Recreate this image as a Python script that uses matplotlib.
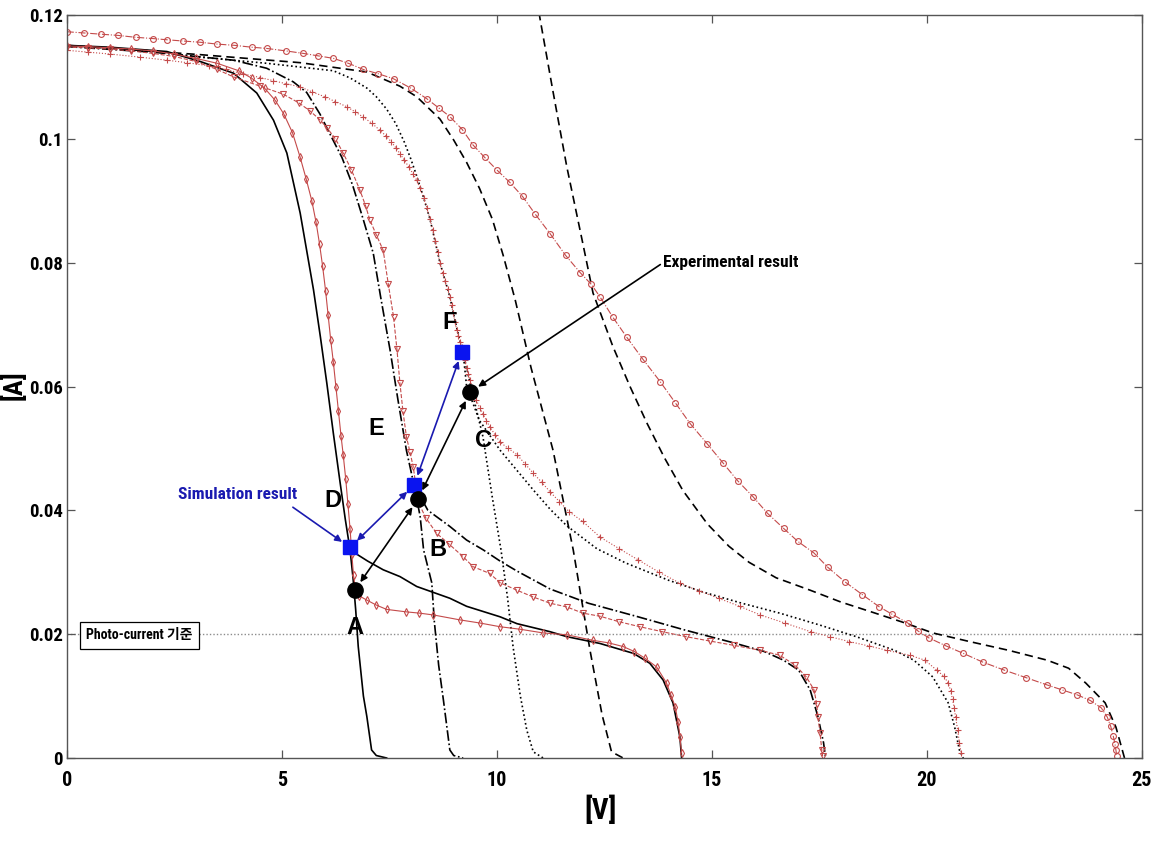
import matplotlib
matplotlib.use('Agg')
import matplotlib.pyplot as plt
from matplotlib import font_manager

# ---------------- data ----------------
sim_solid_top_V = [0, 1, 2.33, 3.1, 3.88, 4.42, 4.81, 5.12, 5.43, 5.58, 5.74, 5.9, 6.05, 6.2, 6.36, 6.48, 6.59]
sim_solid_top_I = [0.1151, 0.1148, 0.1141, 0.1125, 0.1106, 0.1074, 0.1030, 0.0977, 0.0880, 0.0820, 0.0756, 0.0680, 0.0605, 0.0525, 0.0444, 0.0385, 0.0336]
sim_solid_drop_V = [6.59, 6.66, 6.72, 6.78, 6.90, 6.98, 7.09, 7.20, 7.44]
sim_solid_drop_I = [0.0336, 0.0290, 0.0240, 0.0180, 0.0100, 0.0067, 0.0013, 0.0004, 0.0]
sim_solid_tail_V = [6.59, 7.0, 7.36, 7.75, 8.14, 8.91, 9.3, 10.08, 10.47, 11.24, 11.63, 12.4, 13.18, 13.56, 13.87, 14.1, 14.26, 14.3]
sim_solid_tail_I = [0.0336, 0.0318, 0.0304, 0.0293, 0.0277, 0.0258, 0.0245, 0.0228, 0.0217, 0.0204, 0.0196, 0.0185, 0.0169, 0.0153, 0.0126, 0.0089, 0.0034, 0.0]

sim_dashdot_top_V = [0, 2, 3.88, 4.65, 5.27, 5.58, 5.89, 6.15, 6.4, 6.65, 6.9, 7.13, 7.3, 7.52, 7.7, 7.9, 8.08]
sim_dashdot_top_I = [0.1149, 0.1140, 0.1127, 0.1114, 0.1092, 0.1075, 0.1040, 0.1004, 0.0970, 0.0925, 0.0869, 0.0815, 0.0745, 0.0659, 0.0580, 0.0497, 0.0440]
sim_dashdot_drop_V = [8.08, 8.22, 8.3, 8.49, 8.55, 8.65, 8.76, 8.91, 9.0, 9.22]
sim_dashdot_drop_I = [0.0440, 0.0390, 0.0336, 0.0283, 0.0220, 0.0150, 0.0094, 0.0013, 0.0004, 0.0]
sim_dashdot_tail_V = [8.08, 8.4, 8.91, 9.3, 9.69, 10.08, 10.47, 11.24, 12.13, 13.29, 14.36, 15.51, 16.22, 16.67, 17.02, 17.29, 17.47, 17.6, 17.65]
sim_dashdot_tail_I = [0.0440, 0.0400, 0.0374, 0.0352, 0.0336, 0.0318, 0.0302, 0.0273, 0.0250, 0.0228, 0.0207, 0.0186, 0.0172, 0.0158, 0.0142, 0.0110, 0.0067, 0.0025, 0.0]

sim_dotted_top_V = [0, 2, 3.1, 4.65, 6.2, 6.6, 6.98, 7.2, 7.44, 7.65, 7.85, 8.0, 8.14, 8.3, 8.45, 8.68, 8.91, 9.07, 9.22]
sim_dotted_top_I = [0.1150, 0.1142, 0.1132, 0.1122, 0.1110, 0.1098, 0.1082, 0.1068, 0.1048, 0.1025, 0.0995, 0.0968, 0.0940, 0.0905, 0.0870, 0.0800, 0.0745, 0.0695, 0.0654]
sim_dotted_drop_V = [9.22, 9.45, 9.68, 9.9, 10.1, 10.25, 10.38, 10.55, 10.7, 10.85, 11.08]
sim_dotted_drop_I = [0.0654, 0.0585, 0.0519, 0.0420, 0.0336, 0.0260, 0.0180, 0.0100, 0.0045, 0.0010, 0.0]
sim_dotted_tail_V = [9.22, 9.3, 9.6, 10.08, 10.85, 11.24, 11.63, 12.33, 13.0, 14.0, 14.8, 15.7, 16.58, 17.5, 18.36, 19.25, 19.7, 20.14, 20.5, 20.65, 20.76, 20.85]
sim_dotted_tail_I = [0.0654, 0.0600, 0.0545, 0.0497, 0.0433, 0.0402, 0.0375, 0.0338, 0.0315, 0.0287, 0.0268, 0.0250, 0.0234, 0.0215, 0.0196, 0.0174, 0.0158, 0.0131, 0.0089, 0.0050, 0.0013, 0.0]

sim_dashed_single_V = [0, 3.1, 5.43, 6.98, 7.75, 8.14, 8.68, 9.0, 9.3, 9.6, 9.9, 10.15, 10.43, 10.8, 11.31, 11.78, 12.17, 12.45, 12.67, 12.94]
sim_dashed_single_I = [0.1151, 0.1136, 0.1123, 0.1108, 0.1085, 0.1068, 0.1032, 0.0998, 0.0962, 0.0920, 0.0870, 0.0812, 0.0740, 0.0630, 0.0497, 0.0336, 0.0174, 0.0070, 0.0010, 0.0]
sim_dashed_tail_V = [10.85, 11.01, 11.3, 11.63, 12.0, 12.24, 12.7, 13.1, 13.5, 13.9, 14.33, 14.9, 15.4, 15.87, 16.5, 17.29, 18.0, 18.8, 19.5, 20.14, 21.0, 21.9, 22.8, 23.3, 23.7, 24.15, 24.4, 24.6]
sim_dashed_tail_I = [0.1260, 0.1193, 0.1080, 0.0955, 0.0832, 0.0751, 0.0665, 0.0600, 0.0540, 0.0485, 0.0432, 0.0378, 0.0342, 0.0316, 0.0291, 0.0271, 0.0252, 0.0234, 0.0218, 0.0202, 0.0188, 0.0174, 0.0158, 0.0145, 0.0121, 0.0089, 0.0050, 0.0]

exp_diamond_V = [0.0, 0.5, 1.0, 1.5, 2.0, 2.5, 3.0, 3.5, 4.0, 4.3, 4.6, 4.85, 5.05, 5.25, 5.43, 5.57, 5.70, 5.80, 5.88, 5.95, 6.02, 6.08, 6.14, 6.20, 6.26, 6.32, 6.38, 6.43, 6.49, 6.54, 6.59, 6.63, 6.67, 6.72, 6.80, 6.98, 7.20, 7.44, 7.9, 8.2, 8.53, 9.15, 9.61, 10.08, 10.54, 11.08, 11.63, 12.24, 12.6, 12.94, 13.2, 13.45, 13.72, 13.95, 14.05, 14.15, 14.22, 14.26, 14.30]
exp_diamond_I = [0.1150, 0.1149, 0.1147, 0.1145, 0.1142, 0.1137, 0.1130, 0.1122, 0.1110, 0.1098, 0.1082, 0.1062, 0.1040, 0.1010, 0.0970, 0.0935, 0.0900, 0.0865, 0.0830, 0.0795, 0.0755, 0.0715, 0.0675, 0.0640, 0.0600, 0.0560, 0.0520, 0.0490, 0.0450, 0.0410, 0.0370, 0.0330, 0.0295, 0.0270, 0.0262, 0.0255, 0.0247, 0.0240, 0.0236, 0.0234, 0.0231, 0.0223, 0.0218, 0.0212, 0.0208, 0.0202, 0.0199, 0.0190, 0.0186, 0.0180, 0.0172, 0.0161, 0.0147, 0.0121, 0.0102, 0.0083, 0.0058, 0.0034, 0.0008]

exp_triangle_V = [0, 0.5, 1, 1.5, 2, 2.5, 3, 3.5, 3.88, 4.5, 5.04, 5.4, 5.66, 5.9, 6.05, 6.25, 6.43, 6.62, 6.82, 6.95, 7.05, 7.2, 7.36, 7.48, 7.6, 7.68, 7.75, 7.82, 7.9, 7.98, 8.06, 8.12, 8.17, 8.35, 8.6, 8.9, 9.22, 9.45, 9.84, 10.08, 10.47, 10.85, 11.24, 11.63, 12.0, 12.4, 12.85, 13.33, 13.85, 14.4, 14.95, 15.51, 16.13, 16.58, 16.94, 17.2, 17.38, 17.44, 17.47, 17.52, 17.56, 17.58]
exp_triangle_I = [0.1148, 0.1147, 0.1145, 0.1142, 0.1138, 0.1133, 0.1125, 0.1112, 0.1100, 0.1085, 0.1072, 0.1058, 0.1045, 0.1030, 0.1018, 0.1000, 0.0977, 0.0950, 0.0917, 0.0892, 0.0869, 0.0845, 0.0820, 0.0765, 0.0713, 0.0660, 0.0605, 0.0560, 0.0519, 0.0495, 0.0470, 0.0440, 0.0414, 0.0388, 0.0363, 0.0345, 0.0325, 0.0309, 0.0298, 0.0283, 0.0271, 0.0260, 0.0250, 0.0244, 0.0234, 0.0229, 0.0220, 0.0212, 0.0204, 0.0196, 0.0189, 0.0182, 0.0174, 0.0166, 0.0150, 0.0131, 0.0110, 0.0088, 0.0067, 0.0040, 0.0013, 0.0003]

exp_plus_V = [0, 0.5, 1, 1.7, 2.33, 2.8, 3.3, 3.7, 4.1, 4.5, 4.8, 5.1, 5.43, 5.7, 6.0, 6.25, 6.51, 6.7, 6.9, 7.1, 7.28, 7.42, 7.55, 7.65, 7.75, 7.85, 7.95, 8.05, 8.14, 8.22, 8.3, 8.38, 8.45, 8.51, 8.57, 8.63, 8.68, 8.74, 8.8, 8.86, 8.91, 8.95, 8.99, 9.03, 9.07, 9.11, 9.15, 9.19, 9.22, 9.26, 9.3, 9.34, 9.38, 9.45, 9.53, 9.6, 9.69, 9.76, 9.84, 9.96, 10.08, 10.27, 10.47, 10.66, 10.85, 11.05, 11.24, 11.46, 11.68, 12.0, 12.4, 12.85, 13.29, 13.78, 14.27, 14.7, 15.16, 15.65, 16.13, 16.7, 17.3, 17.75, 18.2, 18.65, 19.07, 19.6, 19.96, 20.23, 20.4, 20.5, 20.56, 20.6, 20.64, 20.67, 20.72, 20.76, 20.8]
exp_plus_I = [0.1143, 0.1140, 0.1137, 0.1132, 0.1127, 0.1123, 0.1118, 0.1112, 0.1105, 0.1099, 0.1094, 0.1089, 0.1084, 0.1076, 0.1068, 0.1060, 0.1052, 0.1044, 0.1035, 0.1025, 0.1014, 0.1005, 0.0995, 0.0986, 0.0976, 0.0966, 0.0955, 0.0944, 0.0933, 0.0920, 0.0905, 0.0888, 0.0870, 0.0853, 0.0835, 0.0817, 0.0799, 0.0784, 0.0770, 0.0757, 0.0745, 0.0731, 0.0718, 0.0704, 0.0691, 0.0681, 0.0672, 0.0663, 0.0654, 0.0642, 0.0630, 0.0620, 0.0610, 0.0595, 0.0578, 0.0566, 0.0555, 0.0545, 0.0535, 0.0522, 0.0510, 0.0500, 0.0490, 0.0475, 0.0460, 0.0445, 0.0430, 0.0414, 0.0398, 0.0382, 0.0357, 0.0338, 0.0320, 0.0300, 0.0282, 0.0270, 0.0258, 0.0245, 0.0231, 0.0218, 0.0204, 0.0196, 0.0188, 0.0181, 0.0174, 0.0166, 0.0158, 0.0142, 0.0132, 0.0121, 0.0108, 0.0095, 0.0081, 0.0067, 0.0045, 0.0025, 0.0008]

exp_circle_V = [0, 0.4, 0.8, 1.2, 1.6, 2.0, 2.33, 2.7, 3.1, 3.5, 3.9, 4.3, 4.65, 5.1, 5.5, 5.85, 6.2, 6.55, 6.9, 7.25, 7.6, 8.0, 8.37, 8.65, 8.91, 9.2, 9.45, 9.72, 10.0, 10.3, 10.6, 10.9, 11.24, 11.6, 11.94, 12.2, 12.4, 12.7, 13.02, 13.4, 13.8, 14.15, 14.5, 14.9, 15.27, 15.6, 15.96, 16.3, 16.67, 17.0, 17.38, 17.7, 18.09, 18.5, 18.9, 19.2, 19.56, 19.8, 20.05, 20.45, 20.85, 21.3, 21.8, 22.3, 22.8, 23.15, 23.5, 23.8, 24.06, 24.2, 24.28, 24.34, 24.38, 24.4, 24.42]
exp_circle_I = [0.1173, 0.1171, 0.1169, 0.1167, 0.1164, 0.1162, 0.1160, 0.1158, 0.1156, 0.1153, 0.1151, 0.1148, 0.1146, 0.1142, 0.1138, 0.1134, 0.1130, 0.1122, 0.1112, 0.1105, 0.1097, 0.1082, 0.1065, 0.1050, 0.1036, 0.1015, 0.0990, 0.0970, 0.0950, 0.0930, 0.0907, 0.0878, 0.0847, 0.0812, 0.0784, 0.0765, 0.0745, 0.0712, 0.0680, 0.0644, 0.0608, 0.0574, 0.0540, 0.0507, 0.0476, 0.0448, 0.0422, 0.0395, 0.0371, 0.0350, 0.0331, 0.0308, 0.0285, 0.0264, 0.0244, 0.0232, 0.0218, 0.0205, 0.0194, 0.0181, 0.0169, 0.0155, 0.0142, 0.0130, 0.0118, 0.0110, 0.0102, 0.0093, 0.0081, 0.0066, 0.0051, 0.0035, 0.0022, 0.0013, 0.0003]

photo_current_ref = 0.02

exp_points_V = [6.70, 8.17, 9.38]          # A, B, C (experimental)
exp_points_I = [0.0271, 0.0418, 0.0591]
exp_labels = ['A', 'B', 'C']
sim_points_V = [6.59, 8.08, 9.19]          # D, E, F (simulation)
sim_points_I = [0.0340, 0.0441, 0.0656]
sim_labels = ['D', 'E', 'F']

x_ticks = [0, 5, 10, 15, 20, 25]
y_ticks = [0, 0.02, 0.04, 0.06, 0.08, 0.1, 0.12]
y_tick_labels = ['0', '0.02', '0.04', '0.06', '0.08', '0.1', '0.12']

# ---------------- fonts ----------------
ttf = font_manager.fontManager.ttflist
names = {f.name for f in ttf}
COND, STRETCH, FOUND = 'DejaVu Sans', 'normal', False
for pref in ['Liberation Sans Narrow', 'Roboto Condensed', 'Open Sans Condensed', 'Noto Sans Condensed',
             'DejaVu Sans Condensed']:
    if pref in names:
        COND, FOUND = pref, True
        break
if not FOUND:
    for f in ttf:
        if str(f.stretch) in ('condensed', 'semi-condensed', 'extra-condensed', 'ultra-condensed') \
                or 'Narrow' in f.name or 'Condensed' in f.name:
            COND, STRETCH, FOUND = f.name, str(f.stretch), True
            if 'DejaVu' in f.name:
                break
SCALE = 1.0 if FOUND else 0.85
BOLD_SANS = 'Liberation Sans' if 'Liberation Sans' in names else 'DejaVu Sans'
KR = 'Noto Sans CJK KR'
CF = dict(family=COND, fontstretch=STRETCH, fontweight='bold')

W, H = 1171, 841
fig = plt.figure(figsize=(W / 100, H / 100), dpi=100)
ax = fig.add_axes([66.7 / W, 83 / H, 1075 / W, 743 / H])

K = 'black'
lw = 1.2
ax.plot(sim_solid_top_V, sim_solid_top_I, '-', color=K, lw=lw)
ax.plot(sim_solid_drop_V, sim_solid_drop_I, '-', color=K, lw=lw)
ax.plot(sim_solid_tail_V, sim_solid_tail_I, '-', color=K, lw=lw)
ax.plot(sim_dashdot_top_V, sim_dashdot_top_I, '-.', color=K, lw=lw)
ax.plot(sim_dashdot_drop_V, sim_dashdot_drop_I, '-.', color=K, lw=lw)
ax.plot(sim_dashdot_tail_V, sim_dashdot_tail_I, '-.', color=K, lw=lw)
ax.plot(sim_dotted_top_V, sim_dotted_top_I, ':', color=K, lw=lw)
ax.plot(sim_dotted_drop_V, sim_dotted_drop_I, ':', color=K, lw=lw)
ax.plot(sim_dotted_tail_V, sim_dotted_tail_I, ':', color=K, lw=lw)
ax.plot(sim_dashed_single_V, sim_dashed_single_I, '--', color=K, lw=lw, dashes=(5, 3))
ax.plot(sim_dashed_tail_V, sim_dashed_tail_I, '--', color=K, lw=lw, dashes=(5, 3))

R = '#c44a4a'
mk = dict(mfc='none', mec=R, mew=0.8, ms=4.2)
ax.plot(exp_diamond_V, exp_diamond_I, '-', color=R, lw=0.8, marker='d', **mk)
ax.plot(exp_triangle_V, exp_triangle_I, '--', color=R, lw=0.8, marker='v', **mk)
ax.plot(exp_plus_V, exp_plus_I, ':', color=R, lw=0.8, marker='+', **mk)
ax.plot(exp_circle_V, exp_circle_I, '-.', color=R, lw=0.8, marker='o', **mk)

ax.axhline(photo_current_ref, color='#8c8c8c', lw=1.0, ls=(0, (1, 1.5)), zorder=1)

BL = '#0a14f0'
ax.plot(sim_points_V, sim_points_I, 's', color=BL, ms=10, zorder=6, ls='none')
ax.plot(exp_points_V, exp_points_I, 'o', color='black', ms=11, zorder=6, ls='none')

exp_off = [(0, -27), (14, -36), (10, -35)]
sim_off = [(-12, 34), (-27, 41), (-9, 21)]
for v, i, t, o in zip(exp_points_V + sim_points_V, exp_points_I + sim_points_I,
                      exp_labels + sim_labels, exp_off + sim_off):
    ax.annotate(t, (v, i), xytext=o, textcoords='offset points', ha='center', va='center',
                fontsize=17, fontweight='bold', family=BOLD_SANS, zorder=7)


def dbl(p, q, color):
    ax.annotate('', xy=q, xytext=p,
                arrowprops=dict(arrowstyle='<|-|>', color=color, lw=1.2, shrinkA=7, shrinkB=7,
                                mutation_scale=10), zorder=7)


ea = list(zip(exp_points_V, exp_points_I))
sa = list(zip(sim_points_V, sim_points_I))
dbl(ea[0], ea[1], 'black')
dbl(ea[1], ea[2], 'black')
dbl(sa[0], sa[1], '#1a1ab0')
dbl(sa[1], sa[2], '#1a1ab0')

ax.annotate('Experimental result', xy=ea[2], xytext=(13.87, 0.0800), ha='left', va='center',
            fontsize=12.5 * SCALE, **CF,
            arrowprops=dict(arrowstyle='-|>', color='black', lw=1.2, shrinkA=0, shrinkB=7,
                            mutation_scale=10, relpos=(0, 0.5)), zorder=7)
ax.text(2.6, 0.0425, 'Simulation result', ha='left', va='center', fontsize=12.5 * SCALE,
        color='#1a1ab0', **CF)
ax.annotate('', xy=sa[0], xytext=(5.26, 0.0405),
            arrowprops=dict(arrowstyle='-|>', color='#1a1ab0', lw=1.2, shrinkA=0, shrinkB=7,
                            mutation_scale=10), zorder=7)

ax.text(0.45, 0.0198, 'Photo-current 기준', ha='left', va='center', fontsize=10 * SCALE,
        fontweight='bold', family=[COND, KR], fontstretch=STRETCH,
        bbox=dict(boxstyle='square,pad=0.45', fc='white', ec='black', lw=0.9), zorder=5)

ax.set_xlim(0, 25)
ax.set_ylim(0, 0.12)
ax.set_xticks(x_ticks)
ax.set_yticks(y_ticks)
ax.set_yticklabels(y_tick_labels)
ax.tick_params(direction='in', length=6, width=0.9, top=True, right=True, colors='#555555',
               labelcolor='black', labelsize=14.5 * SCALE)
ax.tick_params(axis='x', pad=9)
ax.tick_params(axis='y', pad=3, labelsize=13.5 * SCALE)
for lab in ax.get_xticklabels() + ax.get_yticklabels():
    lab.set_family(COND)
    lab.set_fontstretch(STRETCH)
    lab.set_fontweight('bold')
for s in ax.spines.values():
    s.set_color('#555555')
    s.set_linewidth(1.0)

fig.text(14 / W, 1 - 385 / H, '[A]', rotation=90, ha='center', va='center', fontsize=19 * SCALE, **CF)
fig.text(601 / W, 1 - 810 / H, '[V]', ha='center', va='center', fontsize=21 * SCALE, **CF)

fig.savefig('out.png', dpi=100)
